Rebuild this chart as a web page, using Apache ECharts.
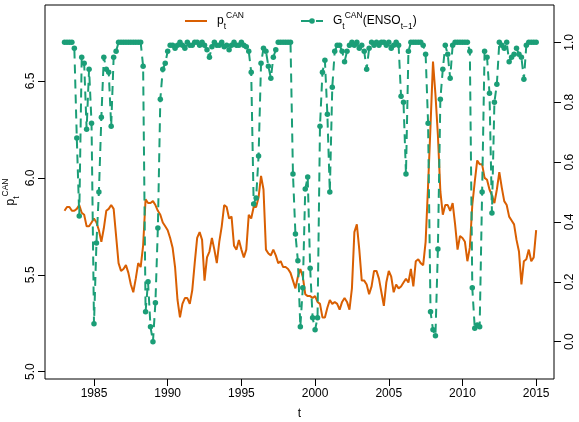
<!DOCTYPE html>
<html>
<head>
<meta charset="UTF-8">
<title>p CAN and G CAN</title>
<script src="https://cdn.jsdelivr.net/npm/echarts@6/dist/echarts.min.js"></script>
<style>body{margin:0;background:#fff} #main{width:579px;height:422px}</style>
</head>
<body>
<div id="main"></div>
<script>
// bi-monthly observations, from 1983.0 to 2015.0
var startYear = 1983;
var stepYear = 2 / 12;

// p_t^CAN (left axis)
var pCan = [
5.83,5.85,5.85,5.83,5.83,5.84,5.86,5.82,5.81,5.75,
5.75,5.77,5.79,5.77,5.73,5.67,5.74,5.83,5.84,5.86,
5.84,5.70,5.56,5.52,5.53,5.55,5.51,5.45,5.41,5.48,
5.56,5.54,5.65,5.89,5.87,5.87,5.88,5.86,5.83,5.81,
5.77,5.75,5.73,5.69,5.64,5.54,5.37,5.28,5.35,5.38,
5.38,5.35,5.42,5.56,5.69,5.72,5.68,5.47,5.59,5.62,
5.69,5.63,5.56,5.67,5.75,5.86,5.85,5.79,5.80,5.65,
5.63,5.68,5.63,5.59,5.63,5.81,5.79,5.85,5.85,5.90,
6.01,5.94,5.63,5.61,5.60,5.63,5.60,5.56,5.57,5.54,
5.54,5.53,5.51,5.47,5.43,5.49,5.53,5.49,5.40,5.39,
5.39,5.38,5.39,5.36,5.35,5.28,5.28,5.33,5.37,5.35,
5.36,5.35,5.32,5.36,5.38,5.36,5.32,5.43,5.72,5.76,
5.63,5.47,5.47,5.45,5.40,5.44,5.52,5.52,5.48,5.41,
5.34,5.46,5.52,5.49,5.41,5.45,5.43,5.44,5.46,5.48,
5.46,5.53,5.44,5.57,5.58,5.56,5.55,5.67,5.96,6.27,
6.60,6.43,6.22,5.93,5.81,5.86,5.86,5.83,5.87,5.76,
5.63,5.70,5.69,5.67,5.57,5.64,5.86,5.98,6.09,6.07,
6.07,6.00,5.99,5.94,5.91,5.87,5.94,6.03,5.95,5.88,
5.86,5.80,5.78,5.76,5.68,5.62,5.45,5.57,5.58,5.63,
5.57,5.59,5.73
];

// G_t^CAN(ENSO_{t-1}) (right axis)
var gCan = [
1,1,1,1,0.98,0.68,0.42,0.95,0.93,0.71,
0.91,0.73,0.06,0.33,0.50,0.75,0.95,0.91,0.90,0.72,
0.95,0.97,1,1,1,1,1,1,1,1,
1,1,0.92,0.10,0.20,0.05,0.00,0.13,0.38,0.81,
0.91,0.93,0.97,0.99,0.99,0.98,0.99,1,0.99,0.98,
1,0.99,0.99,1,1,0.99,1,0.99,0.975,0.95,
0.985,1,0.99,0.99,1,0.985,0.99,0.975,0.99,1,
0.99,0.99,1,0.99,0.985,0.97,0.90,0.46,0.48,0.62,
0.93,0.98,0.97,0.92,0.88,0.95,0.975,1,1,1,
1,1,1,0.56,0.36,0.27,0.05,0.18,0.51,0.55,
0.245,0.08,0.04,0.08,0.72,0.90,0.94,0.76,0.50,0.85,
0.97,0.99,0.99,0.97,0.935,0.97,0.99,1,0.99,1,
0.98,0.99,0.97,0.91,0.98,1,0.99,1,0.99,1,
1,0.99,1,0.98,0.99,1,0.99,0.82,0.80,0.56,
0.97,1,1,1,1,1,0.99,0.96,0.73,0.10,
0.04,0.02,0.31,0.81,0.91,0.99,0.96,0.88,0.99,1,
1,1,1,1,1,0.97,0.18,0.045,0.056,0.05,
0.50,0.97,0.95,0.83,0.43,0.80,0.86,1,0.99,0.98,
1,0.935,0.95,0.96,0.98,0.96,0.95,0.877,0.99,1,
1,1,1
];

var yearTicks = [1985, 1990, 1995, 2000, 2005, 2010, 2015];
var leftTicks = [5.0, 5.5, 6.0, 6.5];
var rightTicks = [0, 0.2, 0.4, 0.6, 0.8, 1.0];

var font = '"Liberation Sans", Arial, Helvetica, sans-serif';
var orange = '#D95F02';
var green = '#1B9E77';

function toPairs(arr) {
	return arr.map(function (v, i) { return [startYear + i * stepYear, v]; });
}

// sub/superscript text styles
var rich = {
	m: { fontSize: 12, fontFamily: font, color: '#000', lineHeight: 20 },
	sup: { fontSize: 8.5, fontFamily: font, color: '#000', lineHeight: 9, verticalAlign: 'top' },
	sub: { fontSize: 8.5, fontFamily: font, color: '#000', lineHeight: 9, verticalAlign: 'bottom' },
	sp: { width: 5 }
};

var labelStyle = { fontSize: 12, color: '#000', fontFamily: font };

var myChart = echarts.init(document.getElementById('main'));
myChart.setOption({
	animation: false,
	backgroundColor: '#fff',
	grid: {
		left: 45, right: 25, top: 5, bottom: 43,
		show: true, borderColor: '#000', borderWidth: 1,
		containLabel: false, outerBoundsMode: 'none'
	},
	legend: [{
		data: [{ name: 'p', icon: 'rect' }], left: 185, top: 11, padding: 0,
		itemWidth: 22, itemHeight: 2,
		formatter: function () { return '{sp|}{m|p}{sub|t}{sup|CAN}'; },
		textStyle: { rich: rich }
	}, {
		data: ['G'], left: 300, top: 11, padding: 0,
		itemWidth: 22, itemHeight: 7,
		formatter: function () { return '{sp|}{m|G}{sub|t}{sup|CAN}{m|(ENSO}{sub|t\u22121}{m|)}'; },
		textStyle: { rich: rich }
	}],
	xAxis: {
		type: 'value', min: 1981.676, max: 2016.21,
		axisLine: { show: false, onZero: false },
		splitLine: { show: false },
		axisTick: { show: true, length: 7, customValues: yearTicks, lineStyle: { color: '#000' } },
		axisLabel: Object.assign({ customValues: yearTicks, margin: 9, formatter: function (v) { return String(v); } }, labelStyle),
		name: 't', nameLocation: 'middle', nameGap: 29, nameTextStyle: labelStyle,
		nameMoveOverlap: false
	},
	yAxis: [{
		type: 'value', position: 'left', min: 4.9623, max: 6.892,
		axisLine: { show: false, onZero: false },
		splitLine: { show: false },
		axisTick: { show: true, length: 7, customValues: leftTicks, lineStyle: { color: '#000' } },
		axisLabel: Object.assign({ customValues: leftTicks, rotate: 90, margin: 8, formatter: function (v) { return v.toFixed(1); } }, labelStyle),
		name: '{m|p}{sub|t}{sup|CAN}', nameLocation: 'middle', nameRotate: 90, nameGap: 24,
		nameMoveOverlap: false,
		nameTextStyle: { rich: rich }
	}, {
		type: 'value', position: 'right', min: -0.1246, max: 1.1246,
		axisLine: { show: false, onZero: false },
		splitLine: { show: false },
		axisTick: { show: true, length: 7, customValues: rightTicks, lineStyle: { color: '#000' } },
		axisLabel: Object.assign({ customValues: rightTicks, rotate: 90, margin: 10, formatter: function (v) { return v.toFixed(1); } }, labelStyle)
	}],
	series: [{
		name: 'p', type: 'line', yAxisIndex: 0,
		data: toPairs(pCan),
		symbol: 'none', showSymbol: false,
		lineStyle: { color: orange, width: 2 },
		itemStyle: { color: orange },
		z: 2
	}, {
		name: 'G', type: 'line', yAxisIndex: 1,
		data: toPairs(gCan),
		symbol: 'circle', symbolSize: 5.5, showAllSymbol: true,
		lineStyle: { color: green, width: 2, type: [9, 6] },
		itemStyle: { color: green },
		z: 3
	}]
});
</script>
</body>
</html>
